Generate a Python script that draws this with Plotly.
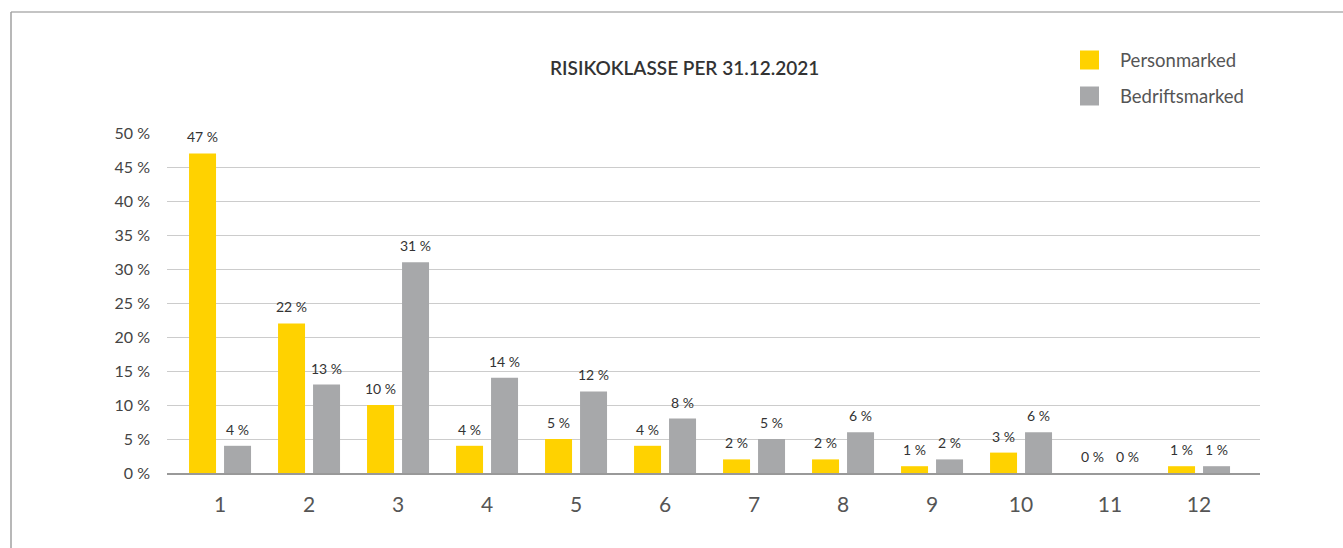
import plotly.graph_objects as go

classes = ["1", "2", "3", "4", "5", "6", "7", "8", "9", "10", "11", "12"]
personmarked = [47, 22, 10, 4, 5, 4, 2, 2, 1, 3, 0, 1]
bedriftsmarked = [4, 13, 31, 14, 12, 8, 5, 6, 2, 6, 0, 1]
y_ticks = [0, 5, 10, 15, 20, 25, 30, 35, 40, 45, 50]
series_names = ["Personmarked", "Bedriftsmarked"]
series_colors = ["#FFD200", "#A7A8AA"]

W, H = 1343, 548
L, R, T, B = 167, 83, 133, 75
FONT = "Lato, 'Open Sans', sans-serif"

CAT_PX = 89.0            # pixel distance between category centres
BAR_W = 27 / CAT_PX      # bar width in category units
OFFSETS = [-31 / CAT_PX, 4 / CAT_PX]
LABEL_SHIFT = [-17.5, 17.5]

fig = go.Figure()
annotations = []
for name, vals, col, off, shift in zip(series_names, [personmarked, bedriftsmarked],
                                       series_colors, OFFSETS, LABEL_SHIFT):
    fig.add_trace(go.Bar(
        x=classes, y=vals, name=name,
        width=BAR_W, offset=off,
        marker=dict(color=col, line=dict(width=0)),
        showlegend=False,
    ))
    # value labels above each bar (category axis positions are indices)
    for i, v in enumerate(vals):
        annotations.append(dict(
            x=i, y=v, xref="x", yref="y", text=f"{v} %", showarrow=False,
            xanchor="center", yanchor="bottom", xshift=shift, yshift=6,
            font=dict(family=FONT, size=14, color="#333333"),
        ))


# pixel -> paper coordinate helpers
def px(x):
    return (x - L) / (W - L - R)


def py(y):
    return (H - B - y) / (H - T - B)


shapes = [
    # frame lines along top and left edge
    dict(type="line", xref="paper", yref="paper", x0=px(11), x1=px(W + 2), y0=py(12), y1=py(12),
         line=dict(color="#8a8a8a", width=1.2)),
    dict(type="line", xref="paper", yref="paper", x0=px(11), x1=px(11), y0=py(12), y1=py(H + 2),
         line=dict(color="#a0a0a0", width=1.5)),
]
annotations.append(dict(
    text="RISIKOKLASSE PER 31.12.2021", xref="paper", yref="paper",
    x=px(684), y=py(67), xanchor="center", yanchor="middle", showarrow=False,
    font=dict(family=FONT, size=19, color="#333333", weight=600),
))
# legend swatches and labels
for i, (name, col) in enumerate(zip(series_names, series_colors)):
    cy = 60 + 36 * i
    shapes.append(dict(type="rect", xref="paper", yref="paper",
                       x0=px(1080), x1=px(1099), y0=py(cy - 9.5), y1=py(cy + 9.5),
                       fillcolor=col, line=dict(width=0)))
    annotations.append(dict(text=name, xref="paper", yref="paper", x=px(1118), y=py(cy),
                            xanchor="left", yanchor="middle", showarrow=False,
                            font=dict(family=FONT, size=18.5, color="#555555")))

fig.update_layout(
    width=W, height=H,
    margin=dict(l=L, r=R, t=T, b=B, pad=0),
    paper_bgcolor="white", plot_bgcolor="white",
    barmode="overlay",
    showlegend=False,
    shapes=shapes, annotations=annotations,
    font=dict(family=FONT),
)
fig.update_xaxes(
    type="category", range=[-0.596, 11.685],
    showgrid=False, showline=True, linecolor="#999999", linewidth=1.5,
    ticks="", tickfont=dict(family=FONT, size=21, color="#555555"),
    ticklabelstandoff=12,
)
fig.update_yaxes(
    range=[0, 50], tickvals=y_ticks, ticktext=[f"{v} %" for v in y_ticks],
    showgrid=True, gridcolor="#cccccc", gridwidth=1, zeroline=False,
    showline=False, ticks="", tickfont=dict(family=FONT, size=16, color="#444444"),
    ticklabelstandoff=16,
)

fig.write_html("out.html")
